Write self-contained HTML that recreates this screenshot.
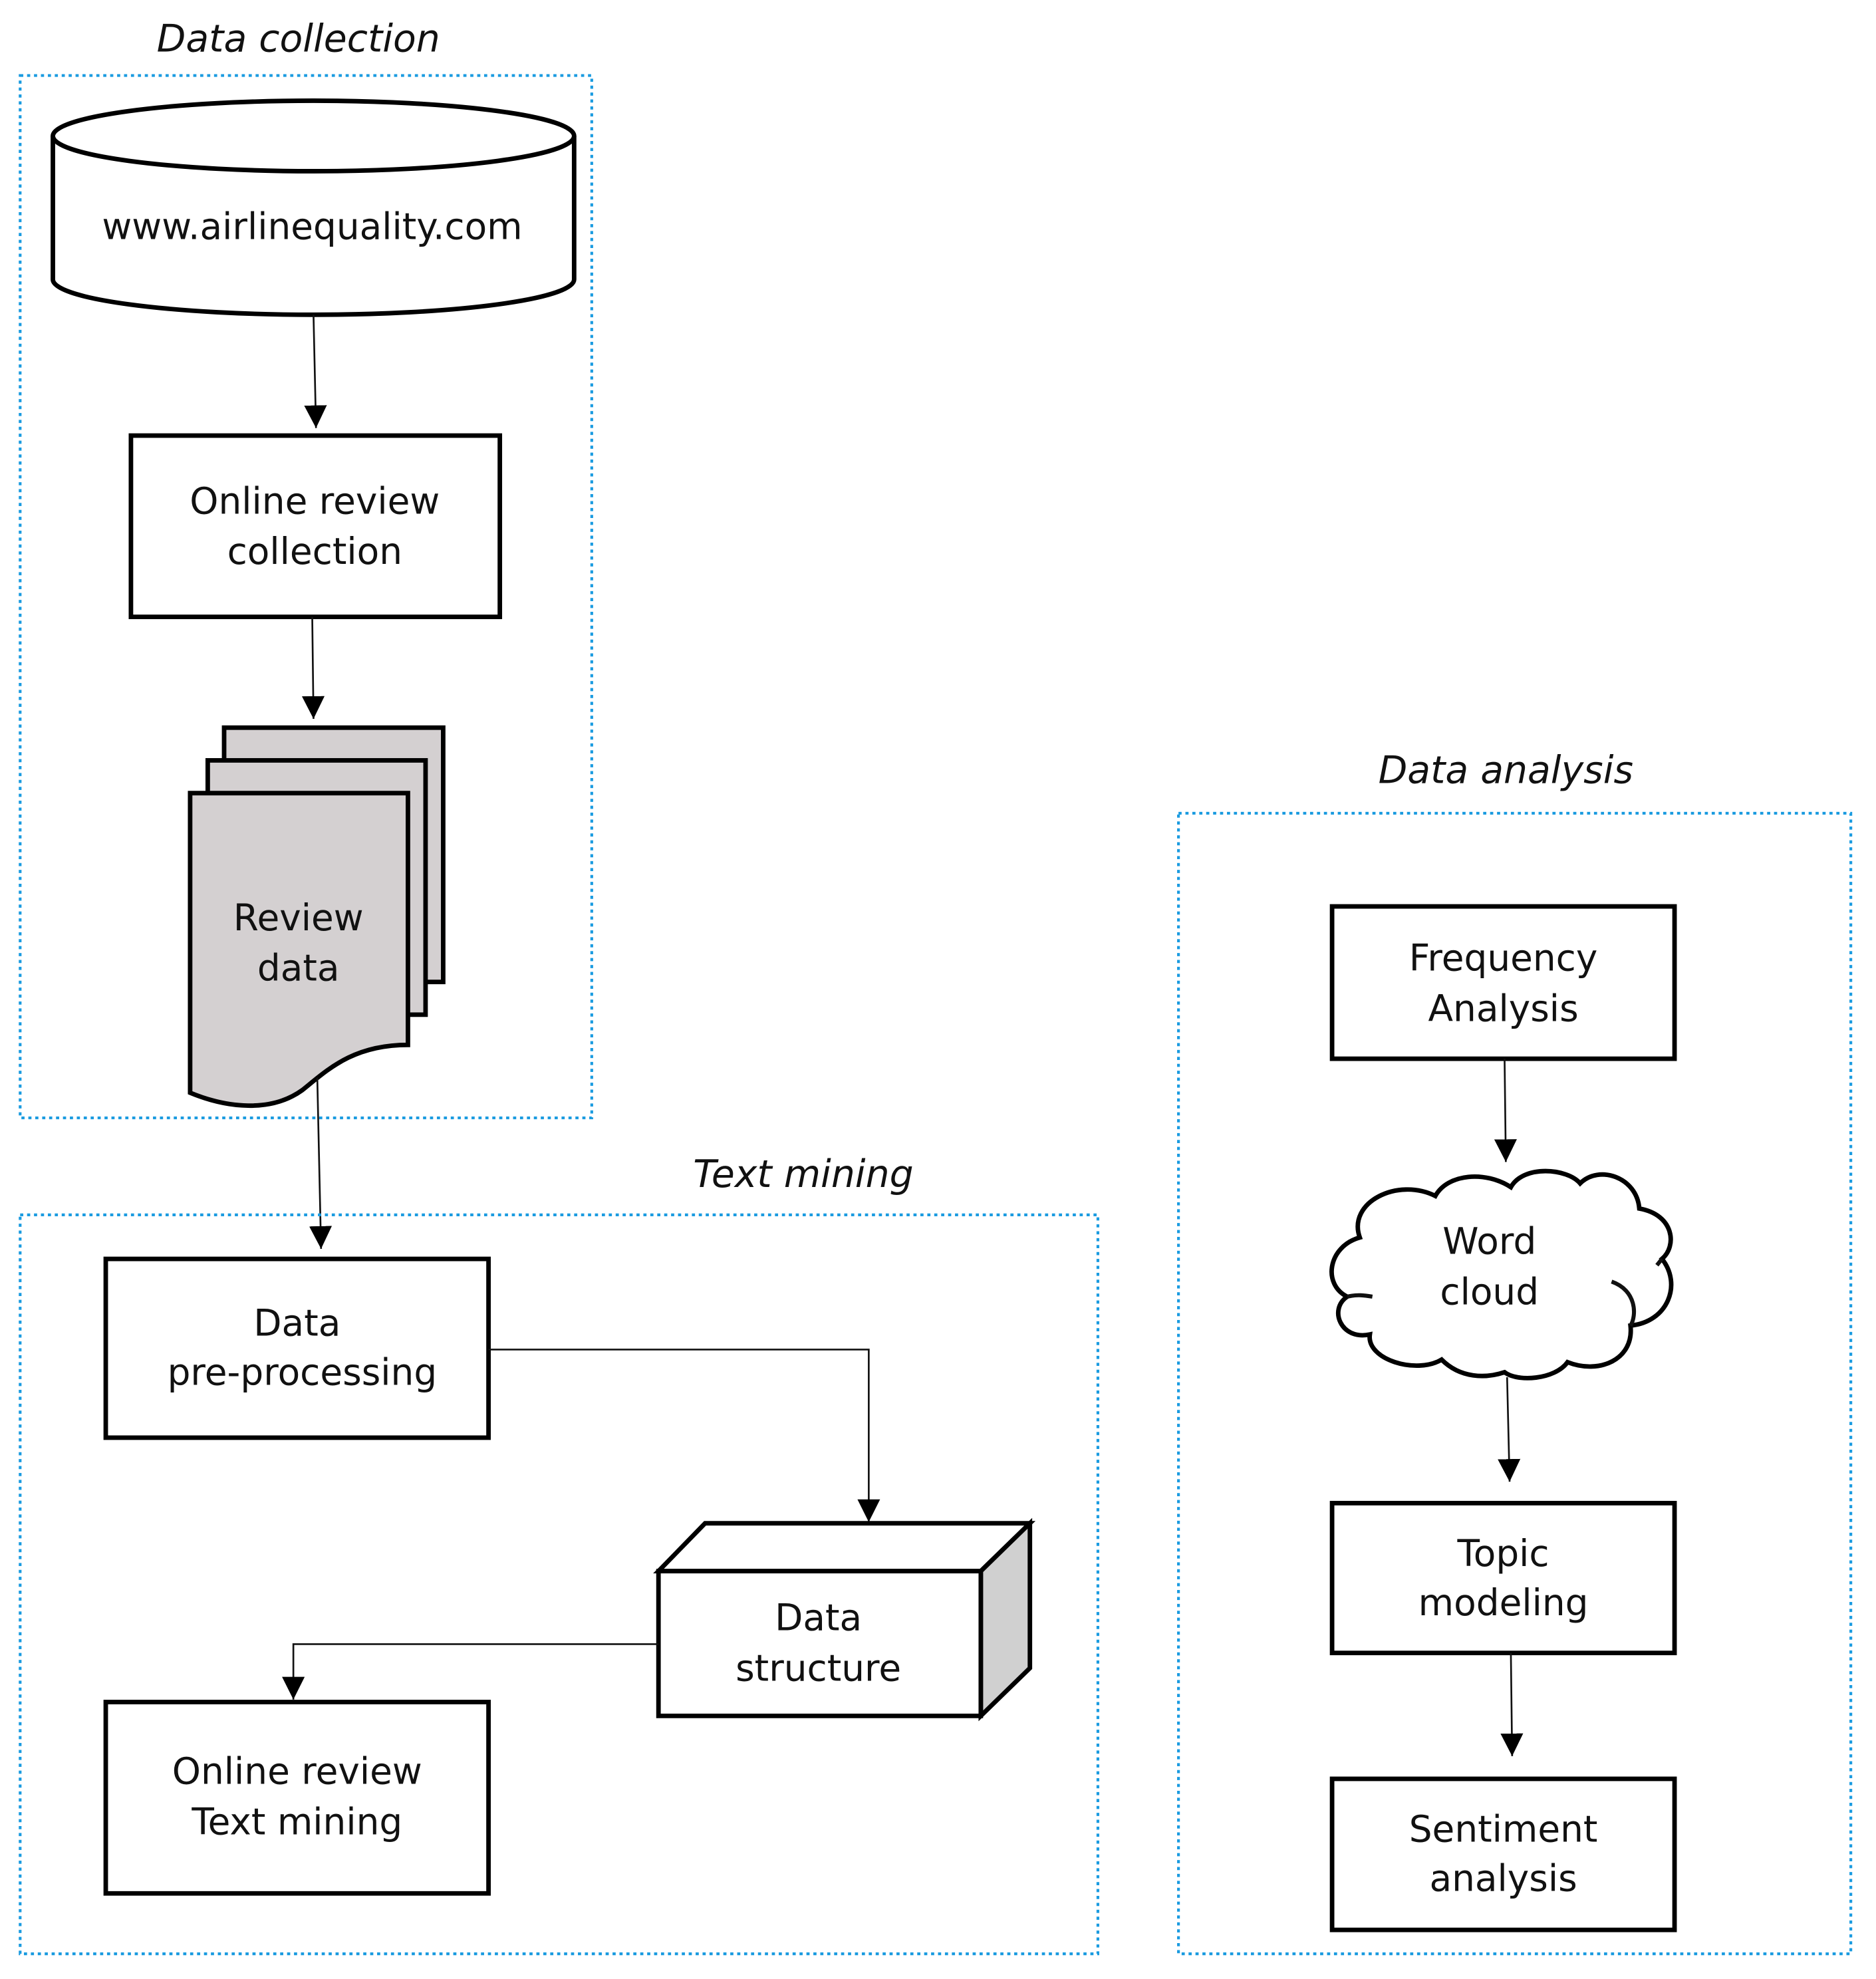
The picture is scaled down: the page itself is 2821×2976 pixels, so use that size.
<!DOCTYPE html>
<html><head><meta charset="utf-8"><style>
html,body{margin:0;padding:0;background:#fff}
svg{display:block}
text{font-family:"DejaVu Sans","Liberation Sans",sans-serif;fill:#111}
.t{font-size:29px;text-anchor:middle;dominant-baseline:middle}
.h{font-size:30px;font-style:italic;text-anchor:middle}
.b{fill:#fff;stroke:#000;stroke-width:3.6}
.g{fill:none;stroke:#1a9be0;stroke-width:2.2;stroke-dasharray:2.5 3}
.l{fill:none;stroke:#111;stroke-width:1.4}
</style></head><body>
<svg width="2821" height="2976" viewBox="0 0 1490 1572" preserveAspectRatio="none" xmlns="http://www.w3.org/2000/svg">
<defs>
<marker id="ar" viewBox="0 0 10 10" markerWidth="18" markerHeight="18" refX="10" refY="5" orient="auto" markerUnits="userSpaceOnUse"><path d="M0,0 L10,5 L0,10 z" fill="#000"/></marker></defs>

<!-- Data collection -->
<text class="h" x="237" y="41">Data collection</text>
<rect class="g" x="16" y="60" width="454" height="828"/>
<path class="b" d="M42,108 L42,222 A207,28 0 0 0 456,222 L456,108"/>
<ellipse class="b" cx="249" cy="108" rx="207" ry="28"/>
<text class="t" x="248" y="182">www.airlinequality.com</text>
<line class="l" x1="249" y1="250" x2="251" y2="340" marker-end="url(#ar)"/>
<rect class="b" x="104" y="346" width="293" height="144"/>
<text class="t" x="250" y="400">Online review</text>
<text class="t" x="250" y="440">collection</text>
<line class="l" x1="248" y1="490" x2="249" y2="571" marker-end="url(#ar)"/>
<rect x="178" y="578" width="174" height="202" fill="#d4d0d1" stroke="#000" stroke-width="3.6"/>
<rect x="165" y="604" width="173" height="202" fill="#d4d0d1" stroke="#000" stroke-width="3.6"/>
<path d="M151,630 H324 V830 C280,830 260,850 240,866 C215,884 180,880 151,868 Z" fill="#d4d0d1" stroke="#000" stroke-width="3.6"/>
<text class="t" x="237" y="731">Review</text>
<text class="t" x="237" y="771">data</text>
<line class="l" x1="252" y1="856" x2="255" y2="992" marker-end="url(#ar)"/>

<!-- Text mining -->
<text class="h" x="638" y="943">Text mining</text>
<rect class="g" x="16" y="965" width="856" height="587"/>
<rect class="b" x="84" y="1000" width="304" height="142"/>
<text class="t" x="236" y="1053">Data</text>
<text class="t" x="240" y="1092">pre-processing</text>
<path class="l" d="M388,1072 H690 V1209" marker-end="url(#ar)"/>
<path class="b" d="M523,1248 L560,1210 L818,1210 L779,1248 Z"/>
<path d="M779,1248 L818,1210 L818,1325 L779,1363 Z" fill="#d0d0d0" stroke="#000" stroke-width="3.6"/>
<rect class="b" x="523" y="1248" width="256" height="115"/>
<text class="t" x="650" y="1287">Data</text>
<text class="t" x="650" y="1327">structure</text>
<path class="l" d="M523,1306 H233 V1350" marker-end="url(#ar)"/>
<rect class="b" x="84" y="1352" width="304" height="152"/>
<text class="t" x="236" y="1409">Online review</text>
<text class="t" x="236" y="1449">Text mining</text>

<!-- Data analysis -->
<text class="h" x="1196" y="622">Data analysis</text>
<rect class="g" x="936" y="646" width="534" height="906"/>
<rect class="b" x="1058" y="720" width="272" height="121"/>
<text class="t" x="1194" y="763">Frequency</text>
<text class="t" x="1194" y="803">Analysis</text>
<line class="l" x1="1195" y1="841" x2="1196" y2="923" marker-end="url(#ar)"/>
<path class="b" d="M1080,983 C1070,955 1110,935 1140,950 C1150,932 1180,930 1200,943 C1210,925 1245,928 1255,940 C1270,925 1300,935 1302,960 C1330,965 1332,990 1320,1000 C1336,1020 1325,1050 1295,1053 C1298,1080 1270,1092 1245,1082 C1235,1096 1205,1098 1195,1090 C1180,1095 1160,1095 1145,1080 C1125,1092 1085,1080 1088,1060 C1065,1065 1055,1040 1070,1030 C1050,1020 1055,990 1080,983 Z"/>
<path class="l" style="stroke-width:3.2" d="M1280,1018 C1300,1025 1300,1045 1295,1053 M1070,1030 C1078,1028 1084,1029 1090,1030 M1316,1005 L1320,1000"/>
<text class="t" x="1183" y="988">Word</text>
<text class="t" x="1183" y="1028">cloud</text>
<line class="l" x1="1197" y1="1094" x2="1199" y2="1177" marker-end="url(#ar)"/>
<rect class="b" x="1058" y="1194" width="272" height="119"/>
<text class="t" x="1194" y="1236">Topic</text>
<text class="t" x="1194" y="1275">modeling</text>
<line class="l" x1="1200" y1="1313" x2="1201" y2="1395" marker-end="url(#ar)"/>
<rect class="b" x="1058" y="1413" width="272" height="120"/>
<text class="t" x="1194" y="1455">Sentiment</text>
<text class="t" x="1194" y="1494">analysis</text>
</svg>
</body></html>
